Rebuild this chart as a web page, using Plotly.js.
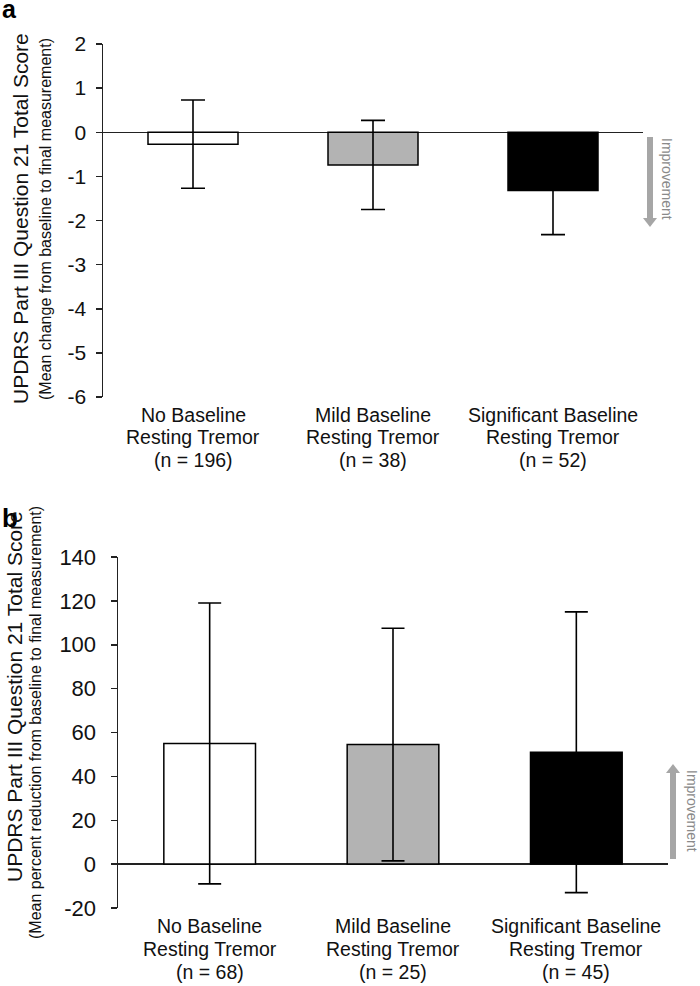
<!DOCTYPE html>
<html>
<head>
<meta charset="utf-8">
<script src="https://cdn.plot.ly/plotly-3.0.1.min.js"></script>
<style>html,body{margin:0;padding:0;background:#fff;}#chart{width:700px;height:986px;}</style>
</head>
<body>
<div id="chart"></div>
<script>
// ---- data ----
var groups = ["No Baseline", "Mild Baseline", "Significant Baseline"];
var subLabel = "Resting Tremor";
var nA = [196, 38, 52];
var nB = [68, 25, 45];
var meanA = [-0.27, -0.74, -1.32];
var errA = [1.0, 1.01, 1.0];
var meanB = [55, 54.5, 51];
var errB = [64, 53, 64];
var barColors = ["#ffffff", "#b3b3b3", "#000000"];
var yTicksA = [-6, -5, -4, -3, -2, -1, 0, 1, 2];
var yTickTextA = ["-6", "-5", "-4", "-3", "-2", "-1", "0", "1", "2"];
var yTicksB = [-20, 0, 20, 40, 60, 80, 100, 120, 140];
var yTickTextB = ["-20", "0", "20", "40", "60", "80", "100", "120", "140"];
var yTitle = "UPDRS Part III Question 21 Total Score";
var ySubA = "(Mean change from baseline to final measurement)";
var ySubB = "(Mean percent reduction from baseline to final measurement)";

// ---- layout helpers ----
var W = 700, H = 986;
function px(x) { return x / W; }
function py(y) { return 1 - y / H; }
var FONT = "Arial, 'Liberation Sans', sans-serif";
var idx = [0, 1, 2];

var traceA = {
  type: "bar", x: idx, y: meanA, xaxis: "x", yaxis: "y",
  marker: { color: barColors, line: { color: "#000", width: 1.5 } },
  error_y: { type: "data", array: errA, visible: true, color: "#000", thickness: 1.6, width: 12 },
  hoverinfo: "none"
};
var traceB = {
  type: "bar", x: idx, y: meanB, xaxis: "x2", yaxis: "y2",
  marker: { color: barColors, line: { color: "#000", width: 1.5 } },
  error_y: { type: "data", array: errB, visible: true, color: "#000", thickness: 1.6, width: 11.5 },
  hoverinfo: "none"
};

function arrowShapes(x, yTail, yHead) {
  var dir = yHead > yTail ? 1 : -1;
  var headLen = 9, headHalf = 7;
  var yBase = yHead - dir * headLen;
  return [
    { type: "line", xref: "paper", yref: "paper", x0: px(x), x1: px(x), y0: py(yTail), y1: py(yBase),
      line: { color: "#a6a6a6", width: 6 } },
    { type: "path", xref: "paper", yref: "paper",
      path: "M " + px(x - headHalf) + " " + py(yBase) + " L " + px(x + headHalf) + " " + py(yBase) +
            " L " + px(x) + " " + py(yHead) + " Z",
      fillcolor: "#a6a6a6", line: { width: 0 } }
  ];
}

// category labels: three lines under each bar, positioned on the category axis
var LBL = 19.5;
function catLabels(xref, ns, centers) {
  var out = [];
  idx.forEach(function (i) {
    var lines = [groups[i], subLabel, "(n = " + ns[i] + ")"];
    lines.forEach(function (t, k) {
      out.push({ text: t, xref: xref, yref: "paper", x: i, y: py(centers[k]),
        xanchor: "center", yanchor: "middle", showarrow: false,
        font: { size: LBL, family: FONT, color: "#111" } });
    });
  });
  return out;
}

var annotations = [
  { text: "<b>a</b>", xref: "paper", yref: "paper", x: px(9.5), y: py(9), xanchor: "center", yanchor: "middle",
    showarrow: false, font: { size: 25, family: FONT, color: "#000" } },
  { text: "<b>b</b>", xref: "paper", yref: "paper", x: px(9.5), y: py(518), xanchor: "center", yanchor: "middle",
    showarrow: false, font: { size: 26, family: FONT, color: "#000" } },
  { text: yTitle, xref: "paper", yref: "paper", x: px(20), y: py(219), xanchor: "center", yanchor: "middle",
    textangle: -90, showarrow: false, font: { size: 21, family: FONT, color: "#111" } },
  { text: ySubA, xref: "paper", yref: "paper", x: px(45), y: py(219), xanchor: "center", yanchor: "middle",
    textangle: -90, showarrow: false, font: { size: 16, family: FONT, color: "#111" } },
  { text: yTitle, xref: "paper", yref: "paper", x: px(14), y: py(697), xanchor: "center", yanchor: "middle",
    textangle: -90, showarrow: false, font: { size: 21, family: FONT, color: "#111" } },
  { text: ySubB, xref: "paper", yref: "paper", x: px(35), y: py(723), xanchor: "center", yanchor: "middle",
    textangle: -90, showarrow: false, font: { size: 16, family: FONT, color: "#111" } },
  { text: "Improvement", xref: "paper", yref: "paper", x: px(667), y: py(179), xanchor: "center", yanchor: "middle",
    textangle: 90, showarrow: false, font: { size: 14, family: FONT, color: "#8a8a8a" } },
  { text: "Improvement", xref: "paper", yref: "paper", x: px(692), y: py(811), xanchor: "center", yanchor: "middle",
    textangle: 90, showarrow: false, font: { size: 14, family: FONT, color: "#8a8a8a" } }
].concat(catLabels("x", nA, [414.7, 437.4, 460.1]))
 .concat(catLabels("x2", nB, [926.2, 948.9, 971.6]));

var layout = {
  width: W, height: H,
  margin: { l: 0, r: 0, t: 0, b: 0 },
  paper_bgcolor: "#fff", plot_bgcolor: "rgba(0,0,0,0)",
  showlegend: false,
  bargap: 0.5,
  font: { family: FONT, color: "#111" },
  xaxis: {
    domain: [px(103), px(643)], range: [-0.5, 2.5], anchor: "y",
    showticklabels: false,
    showline: false, showgrid: false, zeroline: false, ticks: "", fixedrange: true
  },
  yaxis: {
    domain: [py(397), py(44)], range: [-6, 2], anchor: "x",
    tickmode: "array", tickvals: yTicksA, ticktext: yTickTextA,
    showline: true, linecolor: "#222", linewidth: 1.5,
    ticks: "outside", ticklen: 6, tickwidth: 1.5, tickcolor: "#222",
    ticklabelstandoff: 5,
    showgrid: false, zeroline: true, zerolinecolor: "#222", zerolinewidth: 1.5,
    tickfont: { size: 21, family: FONT, color: "#111" }, fixedrange: true
  },
  xaxis2: {
    domain: [px(118), px(668)], range: [-0.5, 2.5], anchor: "y2",
    showticklabels: false,
    showline: false, showgrid: false, zeroline: false, ticks: "", fixedrange: true
  },
  yaxis2: {
    domain: [py(908), py(557)], range: [-20, 140], anchor: "x2",
    tickmode: "array", tickvals: yTicksB, ticktext: yTickTextB,
    showline: true, linecolor: "#222", linewidth: 1.5,
    ticks: "outside", ticklen: 6, tickwidth: 1.5, tickcolor: "#222",
    ticklabelstandoff: 10,
    showgrid: false, zeroline: true, zerolinecolor: "#222", zerolinewidth: 1.5,
    tickfont: { size: 22, family: FONT, color: "#111" }, fixedrange: true
  },
  shapes: arrowShapes(650, 137, 227).concat(arrowShapes(673, 859, 764)),
  annotations: annotations
};

Plotly.newPlot("chart", [traceA, traceB], layout, { displayModeBar: false, staticPlot: true });
</script>
</body>
</html>
